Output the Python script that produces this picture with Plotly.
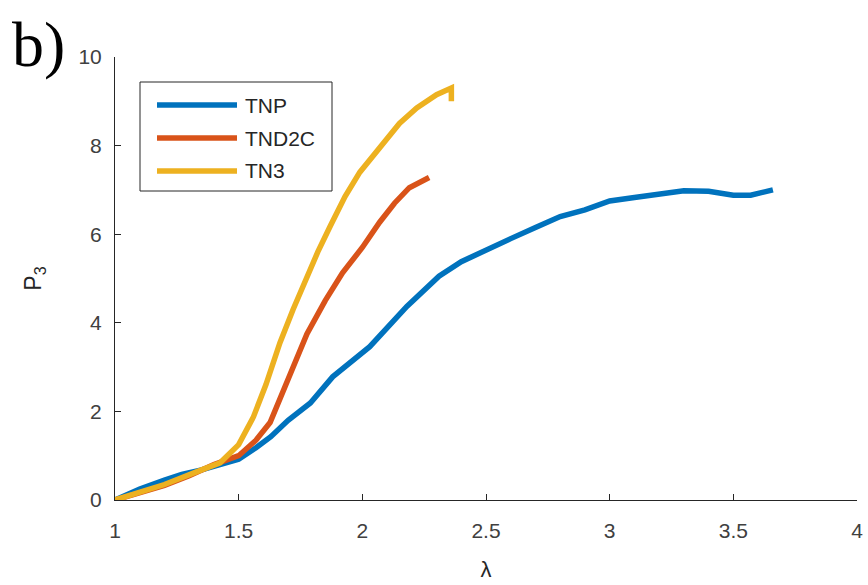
import plotly.graph_objects as go

# ---- data ----
tnp_x = [1.0, 1.1, 1.2, 1.27, 1.35, 1.43, 1.5, 1.57, 1.63, 1.7, 1.79, 1.88, 2.03, 2.18, 2.31, 2.4,
         2.5, 2.6, 2.7, 2.8, 2.9, 3.0, 3.1, 3.2, 3.3, 3.4, 3.5, 3.57, 3.66]
tnp_y = [0.0, 0.25, 0.45, 0.58, 0.68, 0.8, 0.92, 1.18, 1.43, 1.8, 2.19, 2.78, 3.46, 4.37, 5.05, 5.38,
         5.65, 5.9, 6.15, 6.4, 6.55, 6.75, 6.83, 6.92, 6.98, 6.97, 6.88, 6.88, 7.0]

tnd2c_x = [1.0, 1.1, 1.2, 1.3, 1.4, 1.5, 1.57, 1.627, 1.667, 1.72, 1.776, 1.85, 1.92, 2.0, 2.07, 2.13, 2.19, 2.27]
tnd2c_y = [0.0, 0.15, 0.33, 0.55, 0.8, 1.0, 1.35, 1.75, 2.3, 3.0, 3.75, 4.5, 5.13, 5.7, 6.27, 6.7, 7.05, 7.28]

tn3_x = [1.0, 1.2, 1.35, 1.425, 1.5, 1.56, 1.61, 1.667, 1.72, 1.776, 1.82, 1.87, 1.93, 1.99, 2.07, 2.15, 2.22, 2.3, 2.36, 2.36]
tn3_y = [0.0, 0.35, 0.68, 0.84, 1.25, 1.88, 2.6, 3.55, 4.3, 5.05, 5.6, 6.18, 6.85, 7.4, 7.95, 8.5, 8.85, 9.15, 9.3, 9.0]

series_names = ["TNP", "TND2C", "TN3"]
series_colors = ["#0072BD", "#D95319", "#EDB120"]
x_ticks = [1, 1.5, 2, 2.5, 3, 3.5, 4]
x_ticklabels = ["1", "1.5", "2", "2.5", "3", "3.5", "4"]
y_ticks = [0, 2, 4, 6, 8, 10]

FONT = "Liberation Sans, Arial"
TXT = "#262626"

fig = go.Figure()
for xs, ys, name, col in zip([tnp_x, tnd2c_x, tn3_x], [tnp_y, tnd2c_y, tn3_y], series_names, series_colors):
    fig.add_trace(go.Scatter(x=xs, y=ys, mode="lines", name=name,
                             line=dict(color=col, width=5.5), showlegend=False))

# ---- manual MATLAB-style legend ----
L, R, B, T = 115, 11, 85, 57
W, H = 868 - L - R, 585 - T - B
def px(xp): return (xp - L) / W
def py(yp): return (585 - B - yp) / H

fig.add_shape(type="rect", xref="paper", yref="paper",
              x0=px(140), x1=px(332), y0=py(191), y1=py(82),
              line=dict(color=TXT, width=1), fillcolor="white", layer="above")
for i, (name, col) in enumerate(zip(series_names, series_colors)):
    yy = 105 + i * 33
    fig.add_shape(type="line", xref="paper", yref="paper",
                  x0=px(157), x1=px(237), y0=py(yy), y1=py(yy),
                  line=dict(color=col, width=5.5), layer="above")
    fig.add_annotation(xref="paper", yref="paper", x=px(243), y=py(yy), text=name,
                       showarrow=False, xanchor="left", yanchor="middle",
                       font=dict(family=FONT, size=21, color=TXT))

fig.add_annotation(xref="paper", yref="paper", x=px(10), y=py(44), text="b)",
                   showarrow=False, xanchor="left", yanchor="middle",
                   font=dict(family="Liberation Serif, Times New Roman", size=64, color="#000000"))

axis_common = dict(showline=True, linecolor=TXT, linewidth=1, ticks="inside",
                   ticklen=6, tickcolor=TXT, showgrid=False, zeroline=False, automargin=False,
                   mirror=False, tickfont=dict(family=FONT, size=21, color="#404040"))

fig.update_xaxes(range=[1, 4], tickvals=x_ticks, ticktext=x_ticklabels, ticklabelstandoff=12,
                 title=dict(text="λ", font=dict(family=FONT, size=22, color=TXT), standoff=20),
                 **axis_common)
fig.update_yaxes(range=[0, 10], tickvals=y_ticks, ticklabelstandoff=8,
                 title=dict(text="P<sub>3</sub>", font=dict(family=FONT, size=23, color=TXT), standoff=30),
                 **axis_common)

fig.update_layout(width=868, height=585, margin=dict(l=L, r=R, t=T, b=B),
                  plot_bgcolor="white", paper_bgcolor="white")

fig.write_html("out.html")
